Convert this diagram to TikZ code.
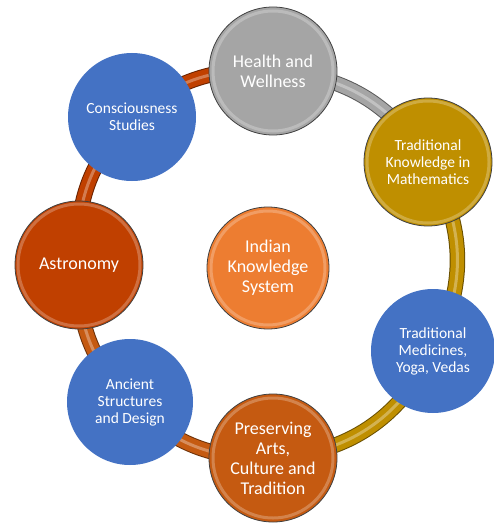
\documentclass[tikz,border=0pt]{standalone}
\usepackage{fontspec}
\setmainfont{Carlito}
\usetikzlibrary{backgrounds}
\definecolor{cblue}{HTML}{4472C4}
\definecolor{cgray}{HTML}{A5A5A5}
\definecolor{cgold}{HTML}{BF8F00}
\definecolor{cred}{HTML}{C04000}
\definecolor{corange}{HTML}{ED7D31}
\definecolor{cbrown}{HTML}{C55A11}
\begin{document}
\begin{tikzpicture}[x=1pt,y=-1pt,
  ball/.style={circle, fill=#1, minimum size=128pt, inner sep=0pt, text=white, align=center},
  bevel/.style={draw=black!75, line width=0.8pt,
    path picture={\draw[white, opacity=0.25, line width=3pt] (path picture bounding box.center) circle[radius=#1];}},
  small/.style={font=\fontsize{15.5}{17}\selectfont},
  big/.style={font=\fontsize{18}{20}\selectfont},
  conn/.style={line width=13.5pt, draw=#1,
    preaction={draw=#1!55!black, line width=15.5pt},
    postaction={draw=#1!30!white, line width=3pt, opacity=0.45}}]
\useasboundingbox (0,0) rectangle (494,527);

\node[ball=cgray, bevel=60pt, big] (health) at (273,71) {Health and\\Wellness};
\node[ball=cgold, bevel=61pt, small] (math) at (428,162) {Traditional\\Knowledge in\\Mathematics};
\node[ball=cblue, minimum size=124pt, small] (med) at (433,351) {Traditional\\Medicines,\\Yoga, Vedas};
\node[ball=cbrown, bevel=60pt, big] (arts) at (273,458) {Preserving\\Arts,\\Culture and\\Tradition};
\node[ball=cblue, minimum size=126pt, small] (anc) at (130,402) {Ancient\\Structures\\and Design};
\node[ball=cred, bevel=61pt, big] (astro) at (79,265) {Astronomy};
\node[ball=cblue, small] (cons) at (132,117) {Consciousness\\Studies};
\node[ball=corange, minimum size=122pt, bevel=57pt, big] (iks) at (268,268) {Indian\\Knowledge\\System};

\begin{scope}[on background layer]
\fill[white] (0,0) rectangle (494,527);
\draw[conn=cgray] (health.center) to[bend left=27] (math.center);
\draw[conn=cgold] (math.center) to[bend left=29] (med.center);
\draw[conn=cgold] (med.center) to[bend left=30] (arts.center);
\draw[conn=cbrown] (arts.center) to[bend left=23] (anc.center);
\draw[conn=cbrown] (anc.center) to[bend left=23] (astro.center);
\draw[conn=cred] (astro.center) to[bend left=24] (cons.center);
\draw[conn=cred] (cons.center) to[bend left=22] (health.center);
\end{scope}
\end{tikzpicture}
\end{document}
